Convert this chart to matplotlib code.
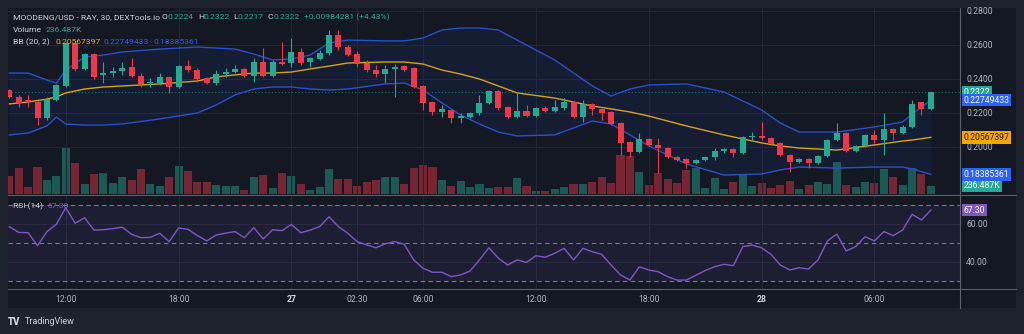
import matplotlib.pyplot as plt
import matplotlib.transforms as mtransforms
from matplotlib.lines import Line2D
from matplotlib.patches import Rectangle

plt.rcParams['font.family'] = ['Roboto', 'DejaVu Sans']

# MOODENG/USD 30m candles (RAY, DEXTools.io)
opens = [0.2335, 0.2296, 0.2273, 0.2266, 0.2171, 0.2276, 0.2359, 0.2612, 0.2459, 0.2547,
         0.2424, 0.2435, 0.2447, 0.2471, 0.2418, 0.2376, 0.2376, 0.2412, 0.2353, 0.2476,
         0.2453, 0.2406, 0.2376, 0.2429, 0.2441, 0.2459, 0.2418, 0.2500, 0.2418, 0.2500,
         0.2494, 0.2559, 0.2500, 0.2518, 0.2553, 0.2659, 0.2588, 0.2547, 0.2494, 0.2453,
         0.2429, 0.2459, 0.2476, 0.2465, 0.2359, 0.2265, 0.2206, 0.2218, 0.2171, 0.2176,
         0.2200, 0.2259, 0.2329, 0.2235, 0.2176, 0.2212, 0.2182, 0.2229, 0.2212, 0.2229,
         0.2265, 0.2176, 0.2253, 0.2224, 0.2206, 0.2141, 0.2029, 0.1971, 0.2047, 0.2012,
         0.1994, 0.1941, 0.1929, 0.1906, 0.1924, 0.1941, 0.1976, 0.1988, 0.1965, 0.2059,
         0.2065, 0.2053, 0.2024, 0.1953, 0.1912, 0.1929, 0.1906, 0.1947, 0.2041, 0.2082,
         0.1976, 0.2006, 0.2071, 0.2041, 0.2106, 0.2082, 0.2118, 0.2265, 0.2224]
highs = [0.2341, 0.2306, 0.2306, 0.2270, 0.2294, 0.2371, 0.2618, 0.2624, 0.2553, 0.2553,
         0.2500, 0.2471, 0.2500, 0.2524, 0.2435, 0.2406, 0.2435, 0.2418, 0.2482, 0.2512,
         0.2465, 0.2412, 0.2453, 0.2465, 0.2482, 0.2465, 0.2524, 0.2582, 0.2512, 0.2618,
         0.2641, 0.2582, 0.2529, 0.2571, 0.2688, 0.2688, 0.2600, 0.2565, 0.2512, 0.2482,
         0.2482, 0.2488, 0.2482, 0.2471, 0.2365, 0.2271, 0.2247, 0.2224, 0.2200, 0.2206,
         0.2306, 0.2335, 0.2335, 0.2241, 0.2318, 0.2247, 0.2235, 0.2241, 0.2276, 0.2288,
         0.2271, 0.2276, 0.2259, 0.2229, 0.2212, 0.2147, 0.2035, 0.2082, 0.2053, 0.2053,
         0.2000, 0.1947, 0.1935, 0.1929, 0.1947, 0.1994, 0.1994, 0.1994, 0.2065, 0.2088,
         0.2147, 0.2059, 0.2029, 0.1959, 0.1935, 0.1935, 0.1953, 0.2047, 0.2141, 0.2088,
         0.2012, 0.2076, 0.2100, 0.2200, 0.2112, 0.2129, 0.2276, 0.2265, 0.2322]
lows = [0.2288, 0.2235, 0.2235, 0.2129, 0.2159, 0.2270, 0.2353, 0.2447, 0.2453, 0.2400,
        0.2376, 0.2412, 0.2424, 0.2412, 0.2353, 0.2353, 0.2365, 0.2318, 0.2347, 0.2441,
        0.2382, 0.2371, 0.2365, 0.2412, 0.2435, 0.2412, 0.2382, 0.2412, 0.2412, 0.2482,
        0.2471, 0.2482, 0.2471, 0.2512, 0.2541, 0.2571, 0.2535, 0.2471, 0.2441, 0.2412,
        0.2376, 0.2294, 0.2447, 0.2347, 0.2218, 0.2188, 0.2176, 0.2141, 0.2141, 0.2171,
        0.2188, 0.2253, 0.2218, 0.2171, 0.2171, 0.2176, 0.2176, 0.2206, 0.2206, 0.2218,
        0.2171, 0.2147, 0.2188, 0.2159, 0.2129, 0.1953, 0.1941, 0.1965, 0.2006, 0.1847,
        0.1935, 0.1918, 0.1876, 0.1900, 0.1918, 0.1924, 0.1965, 0.1941, 0.1959, 0.2041,
        0.2041, 0.2012, 0.1947, 0.1853, 0.1906, 0.1876, 0.1900, 0.1941, 0.2035, 0.1971,
        0.1971, 0.2000, 0.2024, 0.1953, 0.2041, 0.2076, 0.2112, 0.2188, 0.2217]
closes = [0.2294, 0.2261, 0.2270, 0.2169, 0.2282, 0.2365, 0.2612, 0.2459, 0.2547, 0.2412,
          0.2435, 0.2447, 0.2465, 0.2418, 0.2371, 0.2378, 0.2412, 0.2353, 0.2476, 0.2453,
          0.2400, 0.2376, 0.2429, 0.2441, 0.2459, 0.2418, 0.2500, 0.2418, 0.2500, 0.2488,
          0.2559, 0.2494, 0.2524, 0.2553, 0.2659, 0.2588, 0.2541, 0.2488, 0.2453, 0.2429,
          0.2459, 0.2471, 0.2453, 0.2353, 0.2259, 0.2206, 0.2224, 0.2171, 0.2182, 0.2200,
          0.2259, 0.2329, 0.2229, 0.2176, 0.2212, 0.2182, 0.2229, 0.2212, 0.2235, 0.2265,
          0.2176, 0.2253, 0.2224, 0.2200, 0.2135, 0.2024, 0.1971, 0.2047, 0.2012, 0.1994,
          0.1941, 0.1924, 0.1906, 0.1924, 0.1941, 0.1976, 0.1988, 0.1965, 0.2059, 0.2065,
          0.2053, 0.2018, 0.1953, 0.1912, 0.1929, 0.1906, 0.1947, 0.2041, 0.2082, 0.1976,
          0.2006, 0.2071, 0.2041, 0.2106, 0.2082, 0.2118, 0.2253, 0.2224, 0.2322]
# volume, thousands
volumes = [522, 750, 208, 778, 408, 522, 1348, 892, 294, 579,
           607, 322, 493, 408, 721, 294, 236, 493, 807, 664,
           351, 351, 265, 236, 236, 123, 493, 550, 180, 607,
           522, 294, 123, 208, 721, 436, 420, 236, 351, 408,
           493, 493, 294, 750, 835, 778, 408, 236, 379, 208,
           294, 180, 208, 208, 465, 236, 94, 94, 151, 208,
           294, 294, 351, 493, 322, 1120, 1092, 636, 265, 607,
           436, 322, 693, 750, 180, 465, 151, 351, 579, 236,
           322, 180, 265, 379, 151, 265, 351, 294, 921, 265,
           208, 351, 322, 721, 493, 265, 750, 579, 236.487]
rsi = [58.6, 55.6, 55.4, 48.6, 56.0, 59.8, 68.6, 60.4, 63.3, 56.8,
       57.0, 57.6, 58.3, 54.6, 52.8, 53.0, 55.1, 50.7, 57.9, 57.2,
       53.9, 51.1, 54.2, 55.2, 56.0, 52.8, 58.1, 52.1, 57.0, 56.5,
       59.8, 55.4, 56.8, 58.6, 63.8, 58.6, 55.1, 50.7, 49.0, 47.5,
       49.6, 50.7, 49.3, 41.1, 36.7, 34.6, 34.6, 32.3, 33.2, 35.3,
       41.1, 47.5, 42.0, 38.4, 41.1, 39.8, 43.3, 42.5, 44.6, 47.2,
       41.1, 47.2, 45.4, 44.0, 38.4, 33.2, 30.5, 37.5, 35.8, 34.9,
       32.3, 30.5, 30.5, 33.0, 35.5, 37.5, 38.8, 38.1, 48.1, 48.9,
       47.5, 44.0, 38.4, 35.8, 37.0, 36.3, 41.1, 51.1, 54.7, 45.8,
       48.1, 53.3, 51.1, 56.0, 53.9, 56.8, 65.1, 62.1, 67.30]

# Bollinger Bands (20, 2), sampled at candle index
bb_idx = [0, 2, 4, 5, 6, 8, 10, 12, 16, 20, 22, 24, 26, 28, 30, 32, 34, 36, 40, 42,
          44, 46, 48, 50, 52, 54, 58, 62, 64, 66, 68, 72, 76, 80, 82, 84, 88, 92, 95, 96, 98]
bb_upper = [0.2435, 0.2435, 0.2394, 0.2376, 0.2453, 0.2529, 0.2541, 0.2559, 0.2576, 0.2588,
            0.2582, 0.2576, 0.2547, 0.2512, 0.2518, 0.2541, 0.2612, 0.2629, 0.2624, 0.2624,
            0.2641, 0.2688, 0.2700, 0.2700, 0.2688, 0.2629, 0.2512, 0.2359, 0.2300, 0.2341,
            0.2365, 0.2371, 0.2324, 0.2218, 0.2141, 0.2088, 0.2088, 0.2118, 0.2147, 0.2194,
            0.22749433]
bb_mid = [0.2253, 0.2265, 0.2282, 0.2294, 0.2318, 0.2341, 0.2353, 0.2359, 0.2371, 0.2388,
          0.2412, 0.2424, 0.2435, 0.2435, 0.2441, 0.2459, 0.2476, 0.2494, 0.2500, 0.2500,
          0.2488, 0.2453, 0.2429, 0.2400, 0.2359, 0.2318, 0.2288, 0.2241, 0.2224, 0.2206,
          0.2182, 0.2124, 0.2071, 0.2024, 0.2006, 0.1994, 0.1982, 0.2012, 0.2035, 0.2041,
          0.20567397]
bb_lower = [0.2071, 0.2082, 0.2124, 0.2176, 0.2135, 0.2129, 0.2129, 0.2135, 0.2165, 0.2200,
            0.2247, 0.2306, 0.2341, 0.2353, 0.2353, 0.2341, 0.2335, 0.2341, 0.2371, 0.2376,
            0.2335, 0.2259, 0.2188, 0.2135, 0.2088, 0.2065, 0.2071, 0.2153, 0.2135, 0.2071,
            0.2006, 0.1900, 0.1835, 0.1841, 0.1865, 0.1882, 0.1876, 0.1882, 0.1882, 0.1871,
            0.18385361]

time_ticks = [6, 18, 30, 37, 44, 56, 68, 80, 92]
time_labels = ['12:00', '18:00', '27', '02:30', '06:00', '12:00', '18:00', '28', '06:00']
price_ticks = [0.20, 0.22, 0.24, 0.26, 0.28]
rsi_ticks = [40, 60]

UP = '#22ab94'
DOWN = '#f23645'
BG = '#141823'
FRAME = '#1e222d'
GRID = '#222633'
TXT = '#b2b5be'
SEP = '#5d606b'

W, H = 1024, 334
fig = plt.figure(figsize=(W / 100, H / 100), dpi=100, facecolor=FRAME)


def fx(x):
    return x / W


def fy(y):
    return 1 - y / H


# chart container
fig.patches.append(Rectangle((fx(8), fy(308)), fx(1008), 300 / H,
                             transform=fig.transFigure, fc=BG, ec='none', zorder=0))

ax = fig.add_axes([fx(8), fy(194), fx(952), 186 / H])
axv = fig.add_axes([fx(8), fy(194), fx(952), 186 / H], sharex=ax)
axr = fig.add_axes([fx(8), fy(289), fx(952), 94 / H], sharex=ax)
for a in (ax, axv, axr):
    a.set_facecolor('none')
    for s in a.spines.values():
        s.set_visible(False)
ax.set_zorder(3)
axv.set_zorder(2)
axr.set_zorder(2)

n = len(closes)
xs = list(range(n))
ax.set_xlim(-0.14, 101.1)
ax.set_ylim(0.17235, 0.28176)
axv.set_ylim(0, 5300)
axr.set_ylim(25.79, 75.26)

# grid
for t in time_ticks:
    ax.axvline(t, color=GRID, lw=0.8, zorder=0)
    axr.axvline(t, color=GRID, lw=0.8, zorder=0)
for p in price_ticks:
    ax.axhline(p, color=GRID, lw=0.8, zorder=0)
for r in rsi_ticks:
    axr.axhline(r, color=GRID, lw=0.8, zorder=0)

# volume
vcols = [UP if c >= o else DOWN for o, c in zip(opens, closes)]
axv.bar(xs, volumes, width=0.86, color=vcols, alpha=0.45, linewidth=0)
axv.set_yticks([])

# bollinger bands
ax.fill_between(bb_idx, bb_lower, bb_upper, color='#2962ff', alpha=0.07, lw=0, zorder=1)
ax.plot(bb_idx, bb_upper, color='#2b4fc8', lw=1.0, zorder=2)
ax.plot(bb_idx, bb_lower, color='#2b4fc8', lw=1.0, zorder=2)
ax.plot(bb_idx, bb_mid, color='#d6a11c', lw=1.0, zorder=2)

# candles
for i in xs:
    o, h, l, c = opens[i], highs[i], lows[i], closes[i]
    col = UP if c >= o else DOWN
    ax.vlines(i, l, h, color=col, lw=0.8, zorder=4)
    body = max(abs(c - o), 0.0006)
    ax.bar(i, body, bottom=min(o, c), width=0.64, color=col, lw=0, zorder=5)

# last price line
ax.axhline(closes[-1], color=UP, lw=0.8, ls=(0, (1, 2)), alpha=0.6, zorder=1)

# price scale
ax.set_yticks(price_ticks)
ax.yaxis.tick_right()
ax.set_yticklabels(['%.4f' % p for p in price_ticks])
ax.tick_params(axis='y', length=0, pad=4.5, labelsize=6.2, labelcolor=TXT)
ax.tick_params(axis='x', length=0, labelbottom=False)
axv.tick_params(axis='x', length=0, labelbottom=False)

# rsi pane
axr.axhspan(30, 70, color='#7e57c2', alpha=0.1, lw=0, zorder=0)
for lvl in (70, 50, 30):
    axr.axhline(lvl, color='#787b86', lw=0.8, ls=(0, (4, 3)), zorder=1)
axr.plot(xs, rsi, color='#7e57c2', lw=1.0, zorder=3)
axr.set_yticks(rsi_ticks)
axr.yaxis.tick_right()
axr.set_yticklabels(['%.2f' % r for r in rsi_ticks])
axr.tick_params(axis='y', length=0, pad=4.5, labelsize=6.2, labelcolor=TXT)
axr.set_xticks(time_ticks)
axr.set_xticklabels(time_labels)
axr.tick_params(axis='x', length=0, pad=4, labelsize=6.2, labelcolor=TXT)
for lab in axr.get_xticklabels():
    if lab.get_text() in ('27', '28'):
        lab.set_fontweight('bold')
        lab.set_color('#d1d4dc')

# separators
for seg in [((8, 1016), (194.5, 194.5)), ((8, 1016), (289, 289)), ((960, 960), (8, 308))]:
    fig.add_artist(Line2D([fx(v) for v in seg[0]], [fy(v) for v in seg[1]],
                          color=SEP, lw=0.8, zorder=20))


# value tags on the price scale
def tag(axis, y, text, fc, tc='white'):
    tr = mtransforms.blended_transform_factory(axis.transAxes, axis.transData)
    axis.text(1.0035, y, text, transform=tr, ha='left', va='center', fontsize=6.2,
              color=tc, clip_on=False, zorder=30,
              bbox=dict(boxstyle='square,pad=0.2', fc=fc, ec='none'))


tag(ax, closes[-1], '%.4f' % closes[-1], UP)
tag(ax, bb_upper[-1], '%.8f' % bb_upper[-1], '#2962ff')
tag(ax, bb_mid[-1], '%.8f' % bb_mid[-1], '#f7a600', '#131722')
tag(ax, bb_lower[-1], '%.8f' % bb_lower[-1], '#2962ff')
tag(axv, volumes[-1], '%.3fK' % volumes[-1], UP)
tag(axr, rsi[-1], '%.2f' % rsi[-1], '#7e57c2')


# legend lines
def put(x, y, s, col, **kw):
    fig.text(fx(x), fy(y), s, color=col, fontsize=6.1, va='center', ha='left', **kw)


LBL = '#d1d4dc'
put(13, 17, 'MOODENG/USD - RAY, 30, DEXTools.io', LBL)
for x, k, v in [(162, 'O', opens[-1]), (198, 'H', highs[-1]), (233, 'L', lows[-1]),
                (268, 'C', closes[-1])]:
    put(x, 17, k, LBL)
    put(x + 5, 17, '%.4f' % v, UP)
put(304, 17, '+0.00984281 (+4.43%)', UP)
put(13, 30, 'Volume', LBL)
put(46, 30, '236.487K', UP)
put(13, 42, 'BB (20, 2)', LBL)
put(56, 42, '%.8f' % bb_mid[-1], '#f7a600')
put(104, 42, '%.8f' % bb_upper[-1], '#2f5ff0')
put(153, 42, '%.8f' % bb_lower[-1], '#2f5ff0')
put(13, 206, 'RSI (14)', LBL)
put(47, 206, '%.2f' % rsi[-1], '#7e57c2')

# footer
fig.text(fx(8), fy(322), 'TV', color=LBL, fontsize=7, fontweight='black', va='center')
fig.text(fx(25), fy(322), 'TradingView', color=LBL, fontsize=6.5, va='center')

fig.savefig('out.png', dpi=100, facecolor=FRAME)
